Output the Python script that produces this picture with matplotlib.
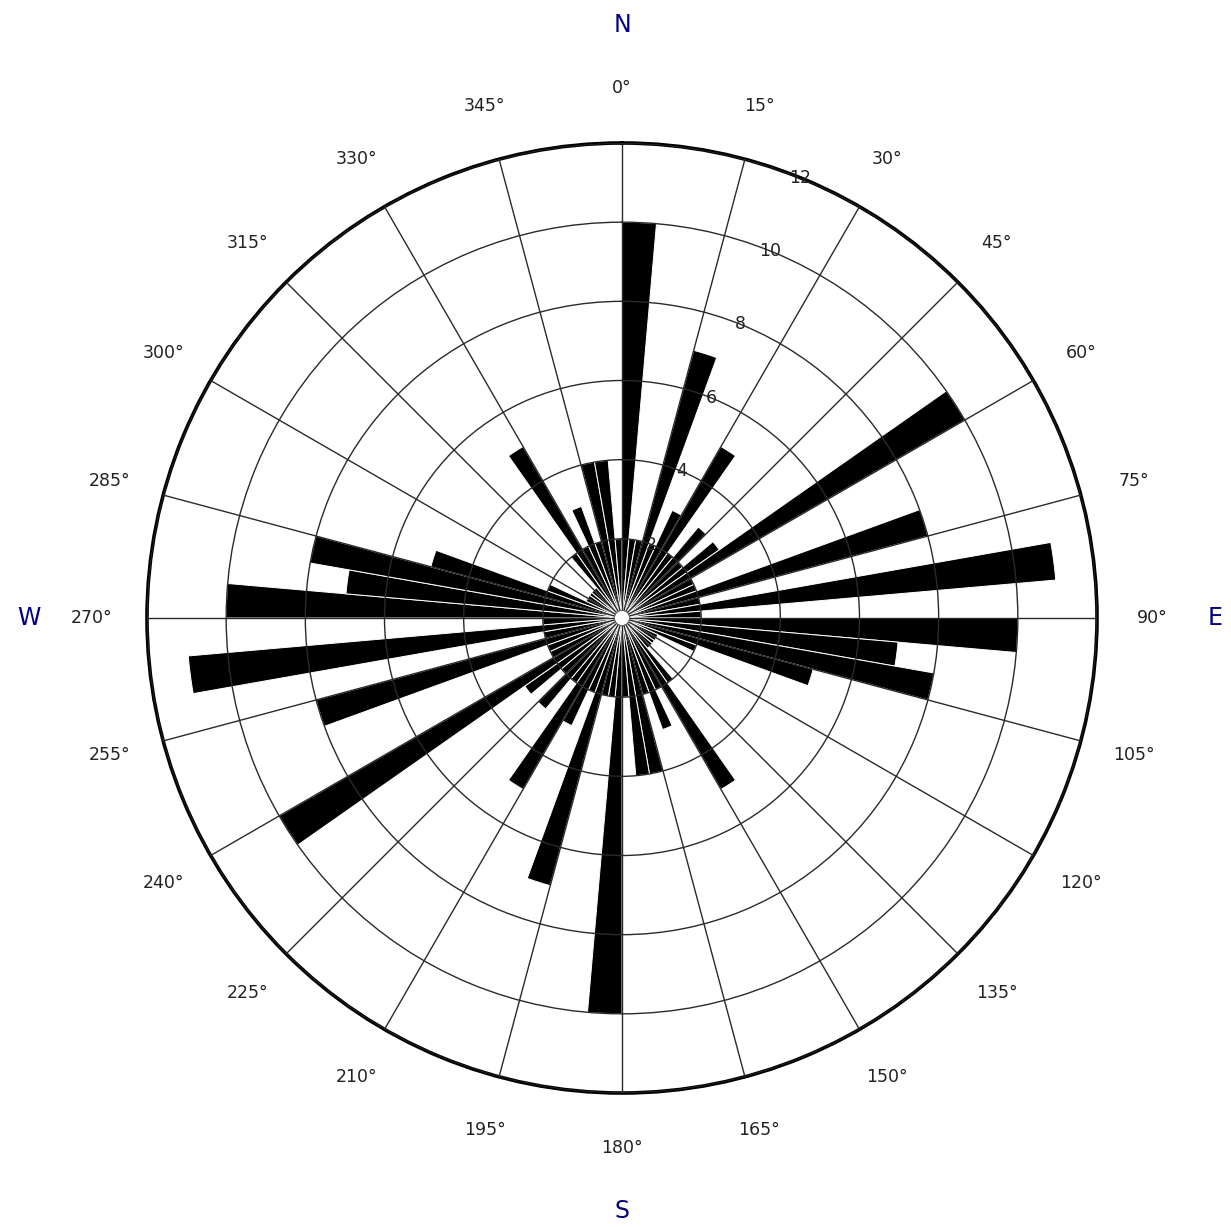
import numpy as np
import matplotlib
matplotlib.use("Agg")
import matplotlib.pyplot as plt
from matplotlib.patches import Circle

# 5-degree bins, clockwise from north
bin_start_deg = list(range(0, 360, 5))
counts = [10, 2, 2, 7, 2, 3, 5, 2, 3, 2, 3, 10,
          2, 2, 8, 2, 11, 2, 10, 7, 8, 5, 2, 1,
          1, 1, 1, 1, 2, 5, 2, 3, 2, 4, 4, 2,
          10, 2, 2, 7, 2, 3, 5, 2, 3, 2, 3, 10,
          2, 2, 8, 2, 11, 2, 10, 7, 8, 5, 2, 1,
          1, 1, 1, 1, 2, 5, 2, 3, 2, 4, 4, 2]
bin_width_deg = 5
r_ticks = [2, 4, 6, 8, 10, 12]
r_max = 12
angle_ticks = list(range(0, 360, 15))
compass = {"N": 0, "E": 90, "S": 180, "W": 270}

W, H = 1231, 1227
fig = plt.figure(figsize=(W / 100, H / 100), dpi=100)
cx, cy, R = 622, 618, 475
ax = fig.add_axes([(cx - R) / W, (H - cy - R) / H, 2 * R / W, 2 * R / H],
                  projection="polar")
ax.set_theta_zero_location("N")
ax.set_theta_direction(-1)

ax.bar(np.deg2rad(bin_start_deg), counts, width=np.deg2rad(bin_width_deg),
       align="edge", color="black", edgecolor="white", linewidth=0.7, zorder=2)

ax.set_rlim(0, r_max)
ax.set_yticks(r_ticks)
ax.set_yticklabels([])
ax.set_xticks(np.deg2rad(angle_ticks))
ax.set_xticklabels([])
ax.grid(True, color="#2a2a2a", linewidth=1.0)
ax.set_axisbelow(False)
ax.spines["polar"].set_linewidth(2.6)
ax.spines["polar"].set_color("black")

txt_color = "#222222"
for r in r_ticks:
    ax.text(np.deg2rad(22), r, str(r), ha="center", va="center",
            fontsize=12.5, color=txt_color, zorder=5)

r_lab = r_max * 530 / R
for a in angle_ticks:
    ax.text(np.deg2rad(a), r_lab, f"{a}°", ha="center", va="center",
            fontsize=12.5, color=txt_color, clip_on=False)

r_comp = r_max * 593 / R
for name, a in compass.items():
    ax.text(np.deg2rad(a), r_comp, name, ha="center", va="center",
            fontsize=17, color="#000080", clip_on=False)

ax.add_patch(Circle((0.5, 0.5), 7.5 / (2 * R), transform=ax.transAxes,
                    facecolor="white", edgecolor="#555555", linewidth=0.6,
                    zorder=6))

fig.savefig("out.png", dpi=100, facecolor="white")
